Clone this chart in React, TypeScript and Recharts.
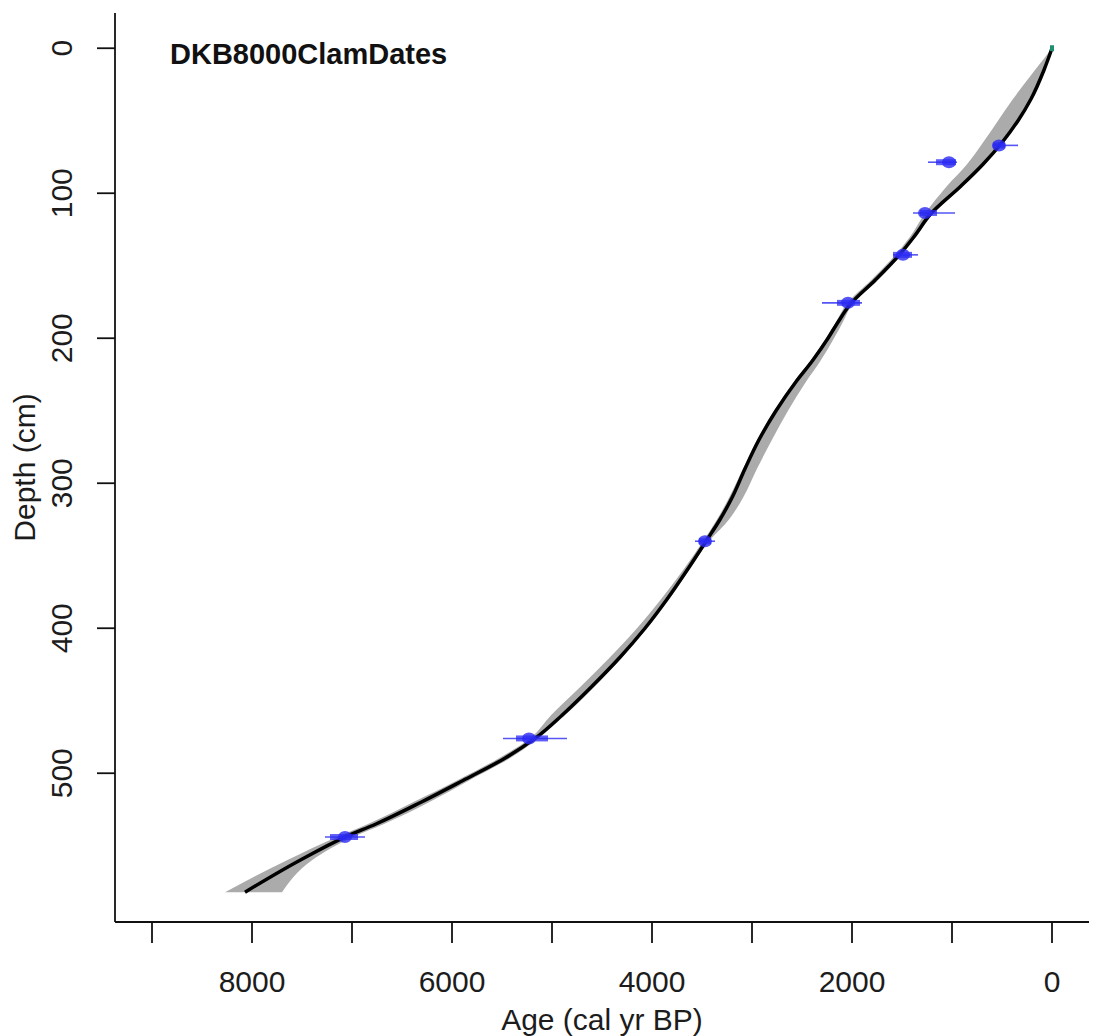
import { Area, ComposedChart, ErrorBar, Line, Scatter, XAxis, YAxis } from 'recharts'

const FONT = '"Liberation Sans", Arial, Helvetica, sans-serif'
const TEXT = '#1c1c1c'
const AXIS = '#111111'
const BAND = '#ababab'
const DATE_BLUE = '#2a2af2'
const SURFACE_GREEN = '#1f8f72'

// age-depth model (best fit + 95% envelope)
const modelDepths = [0, 15, 35, 50, 65, 80, 95, 114, 130, 142, 160, 176, 190, 200, 215, 230, 250, 270, 290, 310, 325, 340, 360, 380, 400, 420, 440, 460, 476, 490, 505, 520, 535, 544, 560, 582]
const modelAges = [0, 80, 210, 340, 500, 690, 910, 1210, 1380, 1520, 1770, 2010, 2150, 2240, 2390, 2560, 2760, 2930, 3070, 3200, 3320, 3460, 3650, 3850, 4070, 4320, 4600, 4900, 5170, 5480, 5890, 6310, 6760, 7070, 7520, 8070]
const bandYoung = [0, 75, 200, 330, 480, 670, 890, 1190, 1360, 1500, 1740, 1990, 2100, 2180, 2310, 2460, 2640, 2800, 2950, 3090, 3230, 3430, 3630, 3830, 4050, 4300, 4570, 4870, 5140, 5430, 5830, 6230, 6680, 6990, 7400, 7700]
const bandOld = [0, 170, 390, 540, 690, 850, 1050, 1270, 1420, 1560, 1810, 2050, 2170, 2260, 2410, 2580, 2780, 2950, 3090, 3230, 3350, 3490, 3690, 3910, 4150, 4420, 4710, 5010, 5220, 5540, 5950, 6390, 6840, 7150, 7650, 8270]

// calibrated dates: depth, mode age, 68% and 95% ranges
const dateDepths = [67, 78.6, 113.6, 142.5, 175.6, 340, 476, 544]
const dateAges = [530, 1030, 1270, 1490, 2040, 3470, 5230, 7070]
const dateInnerFrom = [470, 960, 1150, 1400, 1920, 3410, 5040, 6940]
const dateInnerTo = [590, 1160, 1320, 1590, 2150, 3530, 5360, 7220]
const dateOuterFrom = [340, 950, 970, 1340, 1900, 3370, 4850, 6870]
const dateOuterTo = [590, 1240, 1390, 1590, 2300, 3570, 5490, 7270]

const surfaceDepths = [0]
const surfaceAges = [0]

const ageTicks = [0, 1000, 2000, 3000, 4000, 5000, 6000, 7000, 8000, 9000]
const depthTicks = [0, 100, 200, 300, 400, 500]

const modelRows = modelDepths.map((depth, i) => ({
  depth,
  age: modelAges[i],
  band: [bandYoung[i], bandOld[i]],
}))

const dateRows = dateDepths.map((depth, i) => ({
  depth,
  age: dateAges[i],
  inner: [dateAges[i] - dateInnerFrom[i], dateInnerTo[i] - dateAges[i]],
  outer: [dateAges[i] - dateOuterFrom[i], dateOuterTo[i] - dateAges[i]],
}))

const surfaceRows = surfaceDepths.map((depth, i) => ({ depth, age: surfaceAges[i], inner: [20, 20] }))

function AgeTick({ x, y, payload }: any) {
  if (payload.value % 2000 !== 0) return <g />
  return (
    <text x={x} y={y + 47} textAnchor="middle" fontSize={30} fontFamily={FONT} fill={TEXT}>
      {payload.value}
    </text>
  )
}

function DepthTick({ x, y, payload }: any) {
  const bx = x - 23
  return (
    <text
      x={bx}
      y={y}
      transform={`rotate(-90 ${bx} ${y})`}
      textAnchor="middle"
      fontSize={30}
      fontFamily={FONT}
      fill={TEXT}
    >
      {payload.value}
    </text>
  )
}

const noDot = () => <g />

// bulge at the mode of each calibrated date
const DateBlob = ({ cx, cy }: any) => (
  <ellipse cx={cx} cy={cy} rx={7} ry={6} fill={DATE_BLUE} fillOpacity={0.8} />
)

export default function App() {
  return (
    <div style={{ position: 'absolute', left: 0, top: 0, width: 1093, height: 1036, background: '#fff' }}>
      <ComposedChart
        width={1093}
        height={1036}
        layout="vertical"
        margin={{ top: 13, right: 4, bottom: 0, left: 0 }}
      >
        <XAxis
          type="number"
          dataKey="age"
          domain={[-370, 9370]}
          reversed
          allowDataOverflow
          ticks={ageTicks}
          interval={0}
          tickSize={21}
          height={114}
          axisLine={{ stroke: AXIS, strokeWidth: 1.8 }}
          tickLine={{ stroke: AXIS, strokeWidth: 1.8 }}
          tick={AgeTick}
          label={({ viewBox }: any) => (
            <text
              x={viewBox.x + viewBox.width / 2}
              y={1030}
              textAnchor="middle"
              fontSize={30}
              fontFamily={FONT}
              fill={TEXT}
            >
              Age (cal yr BP)
            </text>
          )}
        />
        <YAxis
          type="number"
          dataKey="depth"
          domain={[-24.3, 602.6]}
          allowDataOverflow
          ticks={depthTicks}
          interval={0}
          tickSize={18}
          width={115}
          axisLine={{ stroke: AXIS, strokeWidth: 1.8 }}
          tickLine={{ stroke: AXIS, strokeWidth: 1.8 }}
          tick={DepthTick}
          label={({ viewBox }: any) => {
            const cy = viewBox.y + viewBox.height / 2
            return (
              <text
                x={35}
                y={cy}
                transform={`rotate(-90 35 ${cy})`}
                textAnchor="middle"
                fontSize={30}
                fontFamily={FONT}
                fill={TEXT}
              >
                Depth (cm)
              </text>
            )
          }}
        />
        <Area
          data={modelRows}
          dataKey="band"
          type="monotone"
          stroke="none"
          fill={BAND}
          fillOpacity={1}
          isAnimationActive={false}
        />
        <Line
          data={modelRows}
          dataKey="age"
          type="monotone"
          stroke="#000"
          strokeWidth={3.5}
          dot={false}
          isAnimationActive={false}
        />
        <Scatter data={surfaceRows} shape={noDot} isAnimationActive={false}>
          <ErrorBar dataKey="inner" direction="x" width={0} stroke={SURFACE_GREEN} strokeWidth={6} isAnimationActive={false} />
        </Scatter>
        <Scatter data={dateRows} shape={DateBlob} isAnimationActive={false}>
          <ErrorBar dataKey="outer" direction="x" width={0} stroke={DATE_BLUE} strokeWidth={1.6} strokeOpacity={0.8} isAnimationActive={false} />
          <ErrorBar dataKey="inner" direction="x" width={0} stroke={DATE_BLUE} strokeWidth={6} strokeOpacity={0.75} isAnimationActive={false} />
        </Scatter>
      </ComposedChart>
      <div
        style={{
          position: 'absolute',
          left: 170,
          top: 39,
          fontFamily: FONT,
          fontWeight: 700,
          fontSize: 29,
          lineHeight: '30px',
          color: '#111',
          whiteSpace: 'nowrap',
        }}
      >
        DKB8000ClamDates
      </div>
    </div>
  )
}
